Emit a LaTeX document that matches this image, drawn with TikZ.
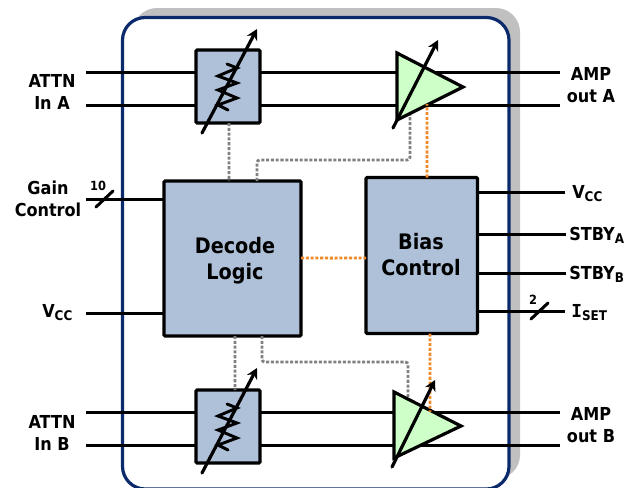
\documentclass[tikz,border=0pt]{standalone}
\usepackage{fontspec}
\setmainfont{DejaVu Sans Bold}[FakeStretch=0.9]
\newfontfamily\serifI{DejaVu Sans Mono Bold}
\usetikzlibrary{arrows.meta,positioning}
\definecolor{boxblue}{HTML}{AFC1D9}
\definecolor{ampgreen}{HTML}{CFFFC8}
\definecolor{framenavy}{HTML}{0B2A6B}
\definecolor{shadowgray}{HTML}{C0C0C0}
\definecolor{dotorange}{HTML}{F08A28}
\definecolor{dotgray}{HTML}{808080}
\tikzset{
  x=0.75pt,y=-0.75pt,
  wire/.style={line width=2.25pt,black},
  blockbox/.style={draw=black,line width=2.4pt,fill=boxblue,rounded corners=0.8pt,inner sep=0pt,outer sep=0pt,anchor=north west},
  ampshape/.style={draw=black,line width=2.4pt,fill=ampgreen,line join=miter},
  tune/.style={line width=2.4pt,black,line cap=round,-{Stealth[length=8pt,width=8.5pt]}},
  zig/.style={line width=2.2pt,black,line join=miter,line cap=round},
  graydots/.style={line width=2.1pt,dotgray,dash pattern=on 2.3pt off 1.3pt,rounded corners=2pt},
  orangedots/.style={line width=2.1pt,dotorange,dash pattern=on 2.3pt off 1.3pt},
  lbl/.style={font=\fontsize{13.4}{16.5}\selectfont,inner sep=0pt,align=center},
  biglbl/.style={font=\fontsize{16}{19.5}\selectfont,inner sep=0pt,align=center},
  smalllbl/.style={font=\fontsize{9.5}{10}\selectfont,inner sep=0pt},
  sig/.style={font=\fontsize{13.4}{14}\selectfont,inner sep=0pt,anchor=base west},
}
\newcommand{\sigsub}[2]{#1\raisebox{-2.4pt}{\fontsize{10}{11}\selectfont #2}}
\begin{document}
\begin{tikzpicture}
\useasboundingbox (0,0) rectangle (636,487);
\clip (0,0) rectangle (636,487);
% package outline
\fill[shadowgray,rounded corners=18pt] (133,8) rectangle (520,479);
\draw[framenavy,line width=2.4pt,fill=white,rounded corners=17pt] (122.5,17.5) rectangle (509,489);

% named free ends
\coordinate (inA1) at (86,72);  \coordinate (inA2) at (86,105);
\coordinate (inB1) at (86,412); \coordinate (inB2) at (86,445);
\coordinate (outA1) at (560,72);  \coordinate (outA2) at (560,105);
\coordinate (outB1) at (560,412); \coordinate (outB2) at (560,445);
\coordinate (gainin) at (86,199); \coordinate (vccin) at (86,313);
\coordinate (vccout) at (565,192); \coordinate (stbya) at (566,234);
\coordinate (stbyb) at (566,273); \coordinate (iset) at (565,311);

% wires run behind the blocks
\draw[wire] (inA1) -- (outA1);
\draw[wire] (inA2) -- (outA2);
\draw[wire] (inB1) -- (outB1);
\draw[wire] (inB2) -- (outB2);

% blocks
\node[blockbox,minimum width=64*0.75pt,minimum height=73*0.75pt] (attA) at (196,50) {};
\node[blockbox,minimum width=64*0.75pt,minimum height=73*0.75pt] (attB) at (196,390) {};
\node[blockbox,minimum width=137*0.75pt,minimum height=155*0.75pt] (decode) at (164,181) {};
\node[blockbox,minimum width=111.5*0.75pt,minimum height=156*0.75pt] (bias) at (366,177.5) {};
\node[biglbl] (decodetext) at (235,261) {Decode\\Logic};
\node[biglbl] (biastext) at (421,254.5) {Bias\\Control};

% amplifiers
\coordinate (ampAa) at (397,53); \coordinate (ampAb) at (463,87); \coordinate (ampAc) at (397,120);
\coordinate (ampBa) at (394,392); \coordinate (ampBb) at (461,426); \coordinate (ampBc) at (394,458);

% dotted control lines
\draw[graydots] (attA.south -| 229,0) -- (229.1,150) -- (decode.north -| 229,0);
\draw[graydots] (decode.north -| 257,0) -- (257,160) -- (410,160) -- (410,112);
\draw[graydots] (decode.south -| 235,0) -- (235.1,360) -- (attB.north -| 235,0);
\draw[graydots] (decode.south -| 262,0) -- (262,362) -- (408,362) -- (408,400);

\draw[ampshape] (ampAa) -- (ampAb) -- (ampAc) -- cycle;
\draw[ampshape] (ampBa) -- (ampBb) -- (ampBc) -- cycle;
\draw[orangedots] (bias.north -| 427,0) -- (427.1,140) -- (427,104);
\draw[orangedots] (bias.south -| 430,0) -- (430.1,370) -- (430,412);
\draw[orangedots] (decode.east |- 0,258) -- (333,258.1) -- (bias.west |- 0,258);

% variable resistors
\draw[zig] (227,64) -- (237,68) -- (218,76) -- (237,83) -- (218,90) -- (237,98) -- (218,105) -- (228,110);
\draw[zig] (227,404) -- (237,408) -- (218,416) -- (237,423) -- (218,430) -- (237,438) -- (218,445) -- (228,450);
\coordinate (tuneAs) at (202,133); \coordinate (tuneAe) at (257,29);
\coordinate (tuneBs) at (202,473); \coordinate (tuneBe) at (257,368);
\coordinate (gainAs) at (393,128); \coordinate (gainAe) at (438,40);
\coordinate (gainBs) at (392,467); \coordinate (gainBe) at (435,380);
\draw[tune] (tuneAs) -- (tuneAe);
\draw[tune] (tuneBs) -- (tuneBe);
\draw[tune] (gainAs) -- (gainAe);
\draw[tune] (gainBs) -- (gainBe);

% side pins
\draw[wire] (gainin) -- (gainin -| decode.west);
\draw[wire] (vccin) -- (vccin -| decode.west);
\draw[wire] (vccout -| bias.east) -- (vccout);
\draw[wire] (stbya -| bias.east) -- (stbya);
\draw[wire] (stbyb -| bias.east) -- (stbyb);
\draw[wire] (iset -| bias.east) -- (iset);
\coordinate (sl1a) at (96,207); \coordinate (sl1b) at (113,191);
\coordinate (sl2a) at (531,319); \coordinate (sl2b) at (548,303);
\draw[wire,line cap=round] (sl1a) -- (sl1b);
\draw[wire,line cap=round] (sl2a) -- (sl2b);

% labels
\node[lbl] (lA) at (52,92) {ATTN\\In A};
\node[lbl] (lB) at (52,432.5) {ATTN\\In B};
\node[lbl] (lG) at (48,198.5) {Gain\\Control};
\node[sig] (lV) at (42,317) {\sigsub{V}{CC}};
\node[lbl] (lOA) at (591,85.5) {AMP\\out A};
\node[lbl] (lOB) at (591,425.5) {AMP\\out B};
\node[sig] (rV) at (572,198) {\sigsub{V}{CC}};
\node[sig] (rA) at (569,240) {\sigsub{STBY}{A}};
\node[sig] (rB) at (569,279) {\sigsub{STBY}{B}};
\node[sig] (rI) at (571,317) {\sigsub{{\serifI I}}{SET}};
\node[smalllbl] (n10) at (98,186) {10};
\node[smalllbl] (n2) at (533,300) {2};
\end{tikzpicture}
\end{document}
